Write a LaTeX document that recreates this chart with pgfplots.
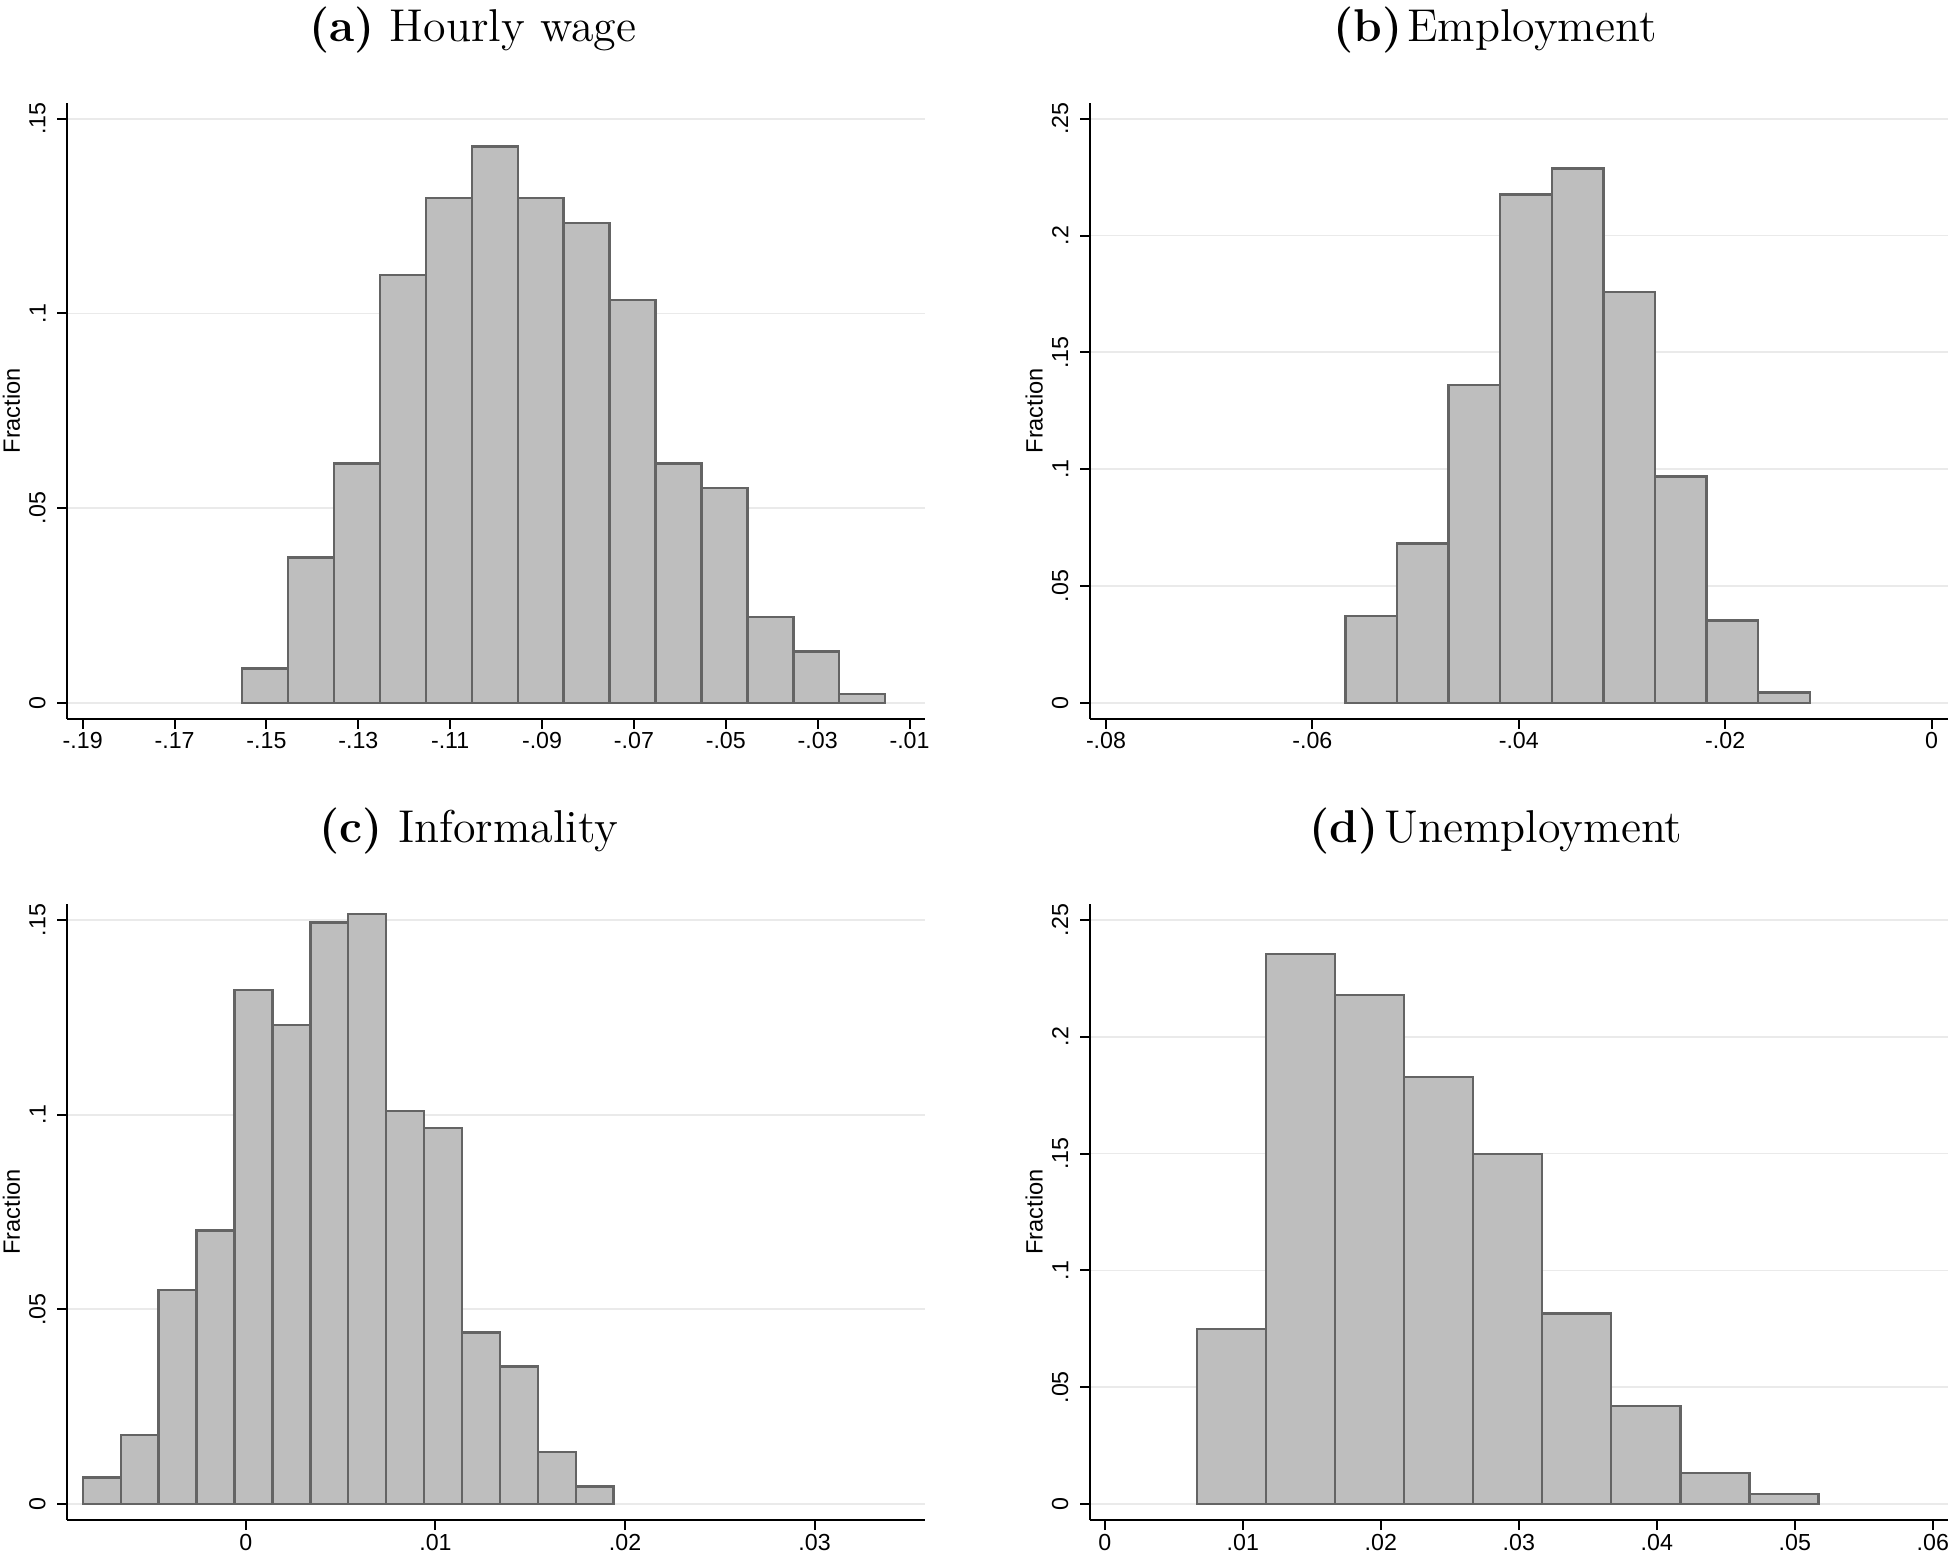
\documentclass[border=0pt]{standalone}
\usepackage{fontspec}
\usepackage{pgfplots}
\pgfplotsset{compat=1.18}
\newfontfamily\lsans{Liberation Sans}
\definecolor{barfill}{RGB}{190,190,190}
\definecolor{baredge}{RGB}{100,100,100}
\definecolor{gridc}{RGB}{234,234,234}
\pgfplotsset{
  stata/.style={
    scale only axis, width=214.4pt, height=154pt,
    anchor=south west,
    scaled ticks=false,
    axis x line*=bottom, axis y line*=left,
    axis line style={line width=0.5pt, black, -},
    tick align=outside, major tick length=2.5pt,
    tick style={line width=0.5pt, black},
    minor tick num=0,
    ymajorgrids, major grid style={line width=0.45pt, gridc},
    tick label style={font=\lsans\fontsize{5.8}{7}\selectfont},
    xticklabel style={anchor=north, inner sep=0pt, outer sep=1.0pt},
    yticklabel style={rotate=90, anchor=south, inner sep=0pt, outer sep=2.9pt},
    ylabel={Fraction},
    ylabel style={font=\lsans\fontsize{5.9}{7}\selectfont, at={(axis description cs:-0.054,0.5)}, anchor=south, inner sep=0pt},
  },
  bars/.style={ybar interval, fill=barfill, draw=baredge, line width=0.6pt},
}
\begin{document}
\begin{tikzpicture}
\path[use as bounding box] (0,0) rectangle (487pt,388.25pt);
\clip (0,0) rectangle (487pt,388.25pt);

% (a) Hourly wage
\begin{axis}[stata, at={(16.83pt,208.55pt)},
  xmin=-0.19335, xmax=-0.00665, ymin=-0.0041, ymax=0.1541,
  xtick={-0.19,-0.17,-0.15,-0.13,-0.11,-0.09,-0.07,-0.05,-0.03,-0.01},
  xticklabels={-.19,-.17,-.15,-.13,-.11,-.09,-.07,-.05,-.03,-.01},
  ytick={0,0.05,0.1,0.15}, yticklabels={0,.05,.1,.15}]
\addplot[bars] coordinates {
(-0.1553,0.0088) (-0.1453,0.0373) (-0.1353,0.0615) (-0.1253,0.1098)
(-0.1153,0.1297) (-0.1053,0.1429) (-0.0953,0.1297) (-0.0853,0.1232)
(-0.0753,0.1034) (-0.0653,0.0615) (-0.0553,0.0551) (-0.0453,0.0220)
(-0.0353,0.0132) (-0.0253,0.0022) (-0.0153,0)};
\end{axis}

% (b) Employment
\begin{axis}[stata, at={(272.5pt,208.55pt)},
  xmin=-0.08155, xmax=0.00155, ymin=-0.0068, ymax=0.2568,
  xtick={-0.08,-0.06,-0.04,-0.02,0},
  xticklabels={-.08,-.06,-.04,-.02,0},
  ytick={0,0.05,0.1,0.15,0.2,0.25}, yticklabels={0,.05,.1,.15,.2,.25}]
\addplot[bars] coordinates {
(-0.0568,0.0373) (-0.0518,0.0682) (-0.0468,0.1361) (-0.0418,0.2175)
(-0.0368,0.2287) (-0.0318,0.1758) (-0.0268,0.0968) (-0.0218,0.0352)
(-0.0168,0.0045) (-0.0118,0)};
\end{axis}

% (c) Informality
\begin{axis}[stata, at={(16.83pt,8.25pt)},
  xmin=-0.00942, xmax=0.03582, ymin=-0.0041, ymax=0.1541,
  xtick={0,0.01,0.02,0.03},
  xticklabels={0,.01,.02,.03},
  ytick={0,0.05,0.1,0.15}, yticklabels={0,.05,.1,.15}]
\addplot[bars] coordinates {
(-0.0086,0.0068) (-0.0066,0.0177) (-0.0046,0.0550) (-0.0026,0.0703)
(-0.0006,0.1320) (0.0014,0.1231) (0.0034,0.1493) (0.0054,0.1516)
(0.0074,0.1010) (0.0094,0.0966) (0.0114,0.0441) (0.0134,0.0353)
(0.0154,0.0134) (0.0174,0.0045) (0.0194,0)};
\end{axis}

% (d) Unemployment
\begin{axis}[stata, at={(272.5pt,8.25pt)},
  xmin=-0.00107, xmax=0.06107, ymin=-0.0068, ymax=0.2568,
  xtick={0,0.01,0.02,0.03,0.04,0.05,0.06},
  xticklabels={0,.01,.02,.03,.04,.05,.06},
  ytick={0,0.05,0.1,0.15,0.2,0.25}, yticklabels={0,.05,.1,.15,.2,.25}]
\addplot[bars] coordinates {
(0.0067,0.0749) (0.0117,0.2355) (0.0167,0.2179) (0.0217,0.1828)
(0.0267,0.1499) (0.0317,0.0816) (0.0367,0.0419) (0.0417,0.0132)
(0.0467,0.0044) (0.0517,0)};
\end{axis}

% titles
\begin{scope}[every node/.style={anchor=base, inner sep=0pt, font=\fontsize{11.5}{13}\selectfont}]
\node at (118.25pt,377.9pt) {\textbf{(a)} Hourly wage};
\node at (373.75pt,377.9pt) {\textbf{(b)}\hspace{0.1em}Employment};
\node at (117.25pt,177.6pt) {\textbf{(c)} Informality};
\node at (374pt,177.6pt) {\textbf{(d)}\hspace{0.13em}Unemployment};
\end{scope}
\end{tikzpicture}
\end{document}
